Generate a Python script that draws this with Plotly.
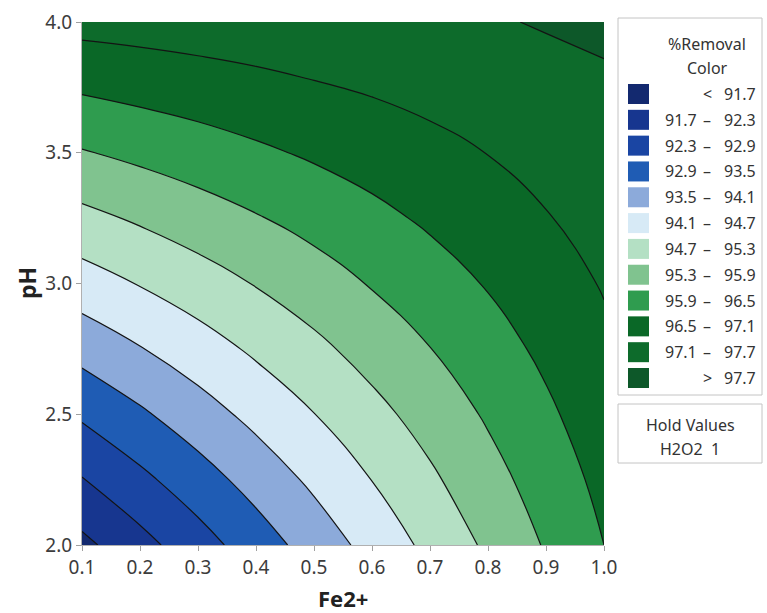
import plotly.graph_objects as go

# Contour profiler of %Removal over Fe2+ and pH (H2O2 held at 1)
fe = [0.1, 0.2, 0.3, 0.4, 0.5, 0.6, 0.7, 0.8, 0.9, 1.0]
ph = [2.0, 2.25, 2.5, 2.75, 3.0, 3.25, 3.5, 3.75, 4.0]

# %Removal on the (pH row, Fe2+ column) grid
removal = [
    [91.55, 92.10, 92.65, 93.20, 93.75, 94.30, 94.85, 95.40, 95.95, 96.50],
    [92.27, 92.76, 93.24, 93.73, 94.22, 94.71, 95.20, 95.69, 96.17, 96.66],
    [92.99, 93.41, 93.84, 94.27, 94.69, 95.12, 95.54, 95.97, 96.40, 96.82],
    [93.71, 94.07, 94.43, 94.80, 95.16, 95.53, 95.89, 96.26, 96.62, 96.98],
    [94.43, 94.73, 95.03, 95.33, 95.63, 95.94, 96.24, 96.54, 96.84, 97.14],
    [95.14, 95.38, 95.62, 95.86, 96.10, 96.35, 96.59, 96.83, 97.07, 97.31],
    [95.86, 96.04, 96.22, 96.40, 96.58, 96.75, 96.93, 97.11, 97.29, 97.47],
    [96.58, 96.70, 96.81, 96.93, 97.05, 97.16, 97.28, 97.40, 97.51, 97.63],
    [97.30, 97.35, 97.41, 97.46, 97.52, 97.57, 97.62, 97.65, 97.74, 97.79],
]

levels = [91.7, 92.3, 92.9, 93.5, 94.1, 94.7, 95.3, 95.9, 96.5, 97.1, 97.7]
band_colors = [
    "#13296f", "#17368f", "#1a45a3", "#1f5cb4", "#8caada", "#d7eaf6",
    "#b4e0c4", "#80c38f", "#2f9c4f", "#0a6827", "#0d6b2b", "#0d5829",
]

x_ticks = [0.1, 0.2, 0.3, 0.4, 0.5, 0.6, 0.7, 0.8, 0.9, 1.0]
y_ticks = [2.0, 2.5, 3.0, 3.5, 4.0]

hold_factor = "H2O2"
hold_value = 1

# page geometry (pixels)
W, H = 767, 613
L, R, T, B = 82, 604, 22, 545
FONT = "Noto Sans"
TXT = "#333333"


def px(x):
    return (x - L) / (R - L)


def py(y):
    return (B - y) / (B - T)


n = len(band_colors)
colorscale = [[i / (n - 1), c] for i, c in enumerate(band_colors)]
step = round(levels[1] - levels[0], 4)

fig = go.Figure(
    go.Contour(
        x=fe,
        y=ph,
        z=removal,
        contours=dict(start=levels[0], end=levels[-1], size=step, coloring="fill"),
        colorscale=colorscale,
        showscale=False,
        line=dict(color="#141414", width=1.2, smoothing=1.3),
        hoverinfo="x+y+z",
    )
)

shapes = []
annotations = []

# legend panel
shapes.append(dict(type="rect", xref="paper", yref="paper",
                   x0=px(618), x1=px(762), y0=py(395), y1=py(18),
                   line=dict(color="#c4c4c4", width=1), fillcolor="white", layer="below"))
annotations.append(dict(xref="paper", yref="paper", x=px(707), y=py(44), text="%Removal",
                        showarrow=False, xanchor="center", yanchor="middle",
                        font=dict(family=FONT, size=16, color=TXT)))
annotations.append(dict(xref="paper", yref="paper", x=px(707), y=py(68), text="Color",
                        showarrow=False, xanchor="center", yanchor="middle",
                        font=dict(family=FONT, size=16, color=TXT)))

row0, row_step = 94, (378 - 94) / 11
for i, col in enumerate(band_colors):
    yc = row0 + i * row_step
    shapes.append(dict(type="rect", xref="paper", yref="paper",
                       x0=px(628), x1=px(649), y0=py(yc + 10), y1=py(yc - 10),
                       line=dict(width=0), fillcolor=col))
    f = dict(family=FONT, size=16, color=TXT)
    if i == 0:
        annotations.append(dict(xref="paper", yref="paper", x=px(707), y=py(yc), text="<",
                                showarrow=False, xanchor="center", yanchor="middle", font=f))
        annotations.append(dict(xref="paper", yref="paper", x=px(758), y=py(yc),
                                text=f"{levels[0]:.1f}", showarrow=False,
                                xanchor="right", yanchor="middle", font=f))
    elif i == n - 1:
        annotations.append(dict(xref="paper", yref="paper", x=px(707), y=py(yc), text=">",
                                showarrow=False, xanchor="center", yanchor="middle", font=f))
        annotations.append(dict(xref="paper", yref="paper", x=px(758), y=py(yc),
                                text=f"{levels[-1]:.1f}", showarrow=False,
                                xanchor="right", yanchor="middle", font=f))
    else:
        annotations.append(dict(xref="paper", yref="paper", x=px(663), y=py(yc),
                                text=f"{levels[i - 1]:.1f}", showarrow=False,
                                xanchor="left", yanchor="middle", font=f))
        annotations.append(dict(xref="paper", yref="paper", x=px(707), y=py(yc), text="–",
                                showarrow=False, xanchor="center", yanchor="middle", font=f))
        annotations.append(dict(xref="paper", yref="paper", x=px(758), y=py(yc),
                                text=f"{levels[i]:.1f}", showarrow=False,
                                xanchor="right", yanchor="middle", font=f))

# hold values panel
shapes.append(dict(type="rect", xref="paper", yref="paper",
                   x0=px(618), x1=px(762), y0=py(463), y1=py(404),
                   line=dict(color="#c4c4c4", width=1), fillcolor="white", layer="below"))
annotations.append(dict(xref="paper", yref="paper", x=px(690), y=py(425), text="Hold Values",
                        showarrow=False, xanchor="center", yanchor="middle",
                        font=dict(family=FONT, size=16, color=TXT)))
annotations.append(dict(xref="paper", yref="paper", x=px(690), y=py(449),
                        text=f"{hold_factor}&nbsp;&nbsp;{hold_value}",
                        showarrow=False, xanchor="center", yanchor="middle",
                        font=dict(family=FONT, size=16, color=TXT)))

# axis titles
annotations.append(dict(xref="paper", yref="paper", x=px(343), y=py(598), text="<b>Fe2+</b>",
                        showarrow=False, xanchor="center", yanchor="middle",
                        font=dict(family=FONT, size=22, color="#222222")))
annotations.append(dict(xref="paper", yref="paper", x=px(27), y=py(283), text="<b>pH</b>",
                        showarrow=False, xanchor="center", yanchor="middle", textangle=-90,
                        font=dict(family=FONT, size=23, color="#222222")))

fig.update_layout(
    width=W, height=H,
    margin=dict(l=L, r=W - R, t=T, b=H - B, autoexpand=False),
    paper_bgcolor="white", plot_bgcolor="white",
    shapes=shapes, annotations=annotations,
    showlegend=False,
)
tick_font = dict(family=FONT, size=19, color="#3c3c3c")
fig.update_xaxes(range=[fe[0], fe[-1]], tickvals=x_ticks, ticktext=[f"{v:.1f}" for v in x_ticks],
                 ticks="outside", ticklen=5, tickcolor="#a0a0a0",
                 showline=True, linecolor="#b0b0b0", linewidth=1, automargin=False,
                 showgrid=False, zeroline=False, tickfont=tick_font)
fig.update_yaxes(range=[ph[0], ph[-1]], tickvals=y_ticks, ticktext=[f"{v:.1f}" for v in y_ticks],
                 ticks="outside", ticklen=5, tickcolor="#a0a0a0",
                 showline=True, linecolor="#b0b0b0", linewidth=1, automargin=False,
                 showgrid=False, zeroline=False, tickfont=tick_font)

fig.write_html("out.html")
